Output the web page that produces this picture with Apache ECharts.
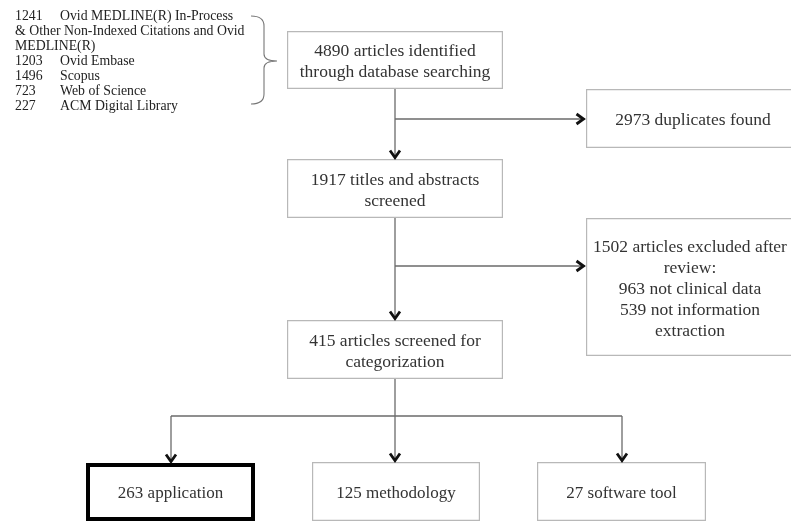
<!DOCTYPE html>
<html><head><meta charset="utf-8">
<script src="https://cdn.jsdelivr.net/npm/echarts@6/dist/echarts.min.js"></script>
<style>html,body{margin:0;padding:0;background:#fff}#c{width:791px;height:522px}</style>
</head><body><div id="c"></div>
<script>
// ---- data ----
const sourceCounts = ['1241', '1203', '1496', '723', '227'];
const sourceNames = ['Ovid MEDLINE(R) In-Process\n& Other Non-Indexed Citations and Ovid\nMEDLINE(R)', 'Ovid Embase', 'Scopus', 'Web of Science', 'ACM Digital Library'];
const stageCounts = [4890, 2973, 1917, 1502, 415, 263, 125, 27];
const stageTexts = ['articles identified\nthrough database searching', 'duplicates found', 'titles and abstracts\nscreened', 'articles excluded after\nreview:', 'articles screened for\ncategorization', 'application', 'methodology', 'software tool'];
const exclusionCounts = [963, 539];
const exclusionReasons = ['not clinical data', 'not information\nextraction'];

// ---- layout (diagram units = pixels of the 791x522 page) ----
const boxLayout = [[287,31,503,89],[586,89,798,148],[287,159,503,218],[586,218,798,356],[287,320,503,379],[86,463,255,521],[312,462,480,521],[537,462,706,521]];
const textOffsetX = [0, 1, 0, -2, 0, 0, 0, 0];
const highlightBox = 5;
const connectors = [
  {pts: [[395,89],[395,159]], arrow: true},
  {pts: [[395,119],[585,119]], arrow: true},
  {pts: [[395,218],[395,320]], arrow: true},
  {pts: [[395,266],[585,266]], arrow: true},
  {pts: [[395,379],[395,462]], arrow: true},
  {pts: [[171,416],[622,416]], arrow: false},
  {pts: [[171,416],[171,463]], arrow: true},
  {pts: [[622,416],[622,462]], arrow: true}
];
const listNumX = 15, listNameX = 60, listTopY = 16, listLineH = 15;
const brace = [[251,16],[264,26],[264,54],[277,61],[264,68],[264,94],[251,104]];

function boxLabel(i) {
  let s = stageCounts[i] + ' ' + stageTexts[i];
  if (i === 3) {
    s += '\n' + exclusionCounts.map((c, k) => c + ' ' + exclusionReasons[k]).join('\n');
  }
  return s;
}

// build list rows
const listRows = [];
sourceCounts.forEach((c, i) => {
  const parts = sourceNames[i].split('\n');
  parts.forEach((p, k) => {
    listRows.push({num: k === 0 ? c : '', name: p, cont: k > 0});
  });
});

const FONT = '"Liberation Serif","Times New Roman",serif';
const chart = echarts.init(document.getElementById('c'));
chart.setOption({
  animation: false,
  backgroundColor: '#fff',
  grid: {left: 0, right: 0, top: 0, bottom: 0},
  xAxis: {type: 'value', min: 0, max: 791, show: false},
  yAxis: {type: 'value', min: 0, max: 522, inverse: true, show: false},
  series: [
    {
      type: 'custom', clip: false,
      data: boxLayout.map((b, i) => [b[0], b[1], b[2], b[3], i]),
      renderItem: function (params, api) {
        const i = api.value(4);
        const p0 = api.coord([api.value(0), api.value(1)]);
        const p1 = api.coord([api.value(2), api.value(3)]);
        const hl = i === highlightBox;
        const lw = hl ? 4 : 1.2;
        return {
          type: 'group',
          children: [
            {type: 'rect', shape: {x: p0[0] + lw / 2, y: p0[1] + lw / 2, width: p1[0] - p0[0] - lw, height: p1[1] - p0[1] - lw},
             style: {fill: '#fff', stroke: hl ? '#000' : '#b8b8b8', lineWidth: lw}},
            {type: 'text', style: {text: boxLabel(i), x: (p0[0] + p1[0]) / 2 + textOffsetX[i], y: (p0[1] + p1[1]) / 2 + 2,
             align: 'center', verticalAlign: 'middle', fontFamily: FONT, fontSize: i >= 5 ? 17 : 17.5, lineHeight: 21, fill: '#333'}}
          ]
        };
      }
    },
    {
      type: 'custom', clip: false,
      data: connectors.map((c, i) => [c.pts[0][0], c.pts[0][1], i]),
      renderItem: function (params, api) {
        const c = connectors[api.value(2)];
        const pts = c.pts.map(p => api.coord(p));
        const children = [{type: 'polyline', shape: {points: pts}, style: {stroke: '#6a6a6a', lineWidth: 1.3, fill: null}}];
        if (c.arrow) {
          const a = pts[pts.length - 2], b = pts[pts.length - 1];
          const dx = b[0] - a[0], dy = b[1] - a[1];
          const L = Math.hypot(dx, dy), ux = dx / L, uy = dy / L;
          const back = 7, half = 5;
          const tip = [b[0] - ux * 1.5, b[1] - uy * 1.5];
          children.push({type: 'polyline', shape: {points: [
            [tip[0] - ux * back - uy * half, tip[1] - uy * back + ux * half],
            tip,
            [tip[0] - ux * back + uy * half, tip[1] - uy * back - ux * half]
          ]}, style: {stroke: '#111', lineWidth: 2.8, fill: null, lineJoin: 'miter'}});
        }
        return {type: 'group', children: children};
      }
    },
    {
      type: 'custom', clip: false,
      data: listRows.map((r, i) => [listNumX, listTopY + i * listLineH, i]),
      renderItem: function (params, api) {
        const r = listRows[api.value(2)];
        const y = api.coord([0, api.value(1)])[1];
        const xn = api.coord([listNumX, 0])[0];
        const xm = api.coord([listNameX, 0])[0];
        const st = {fontFamily: FONT, fontSize: 13.8, fill: '#222', verticalAlign: 'middle', align: 'left'};
        const ch = [];
        if (r.cont) {
          ch.push({type: 'text', style: Object.assign({text: r.name, x: xn, y: y}, st)});
        } else {
          ch.push({type: 'text', style: Object.assign({text: r.num, x: xn, y: y}, st)});
          ch.push({type: 'text', style: Object.assign({text: r.name, x: xm, y: y}, st)});
        }
        return {type: 'group', children: ch};
      }
    },
    {
      type: 'custom', clip: false,
      data: [[brace[0][0], brace[0][1]]],
      renderItem: function (params, api) {
        const P = brace.map(p => api.coord(p));
        const d = 'M' + P[0] + ' Q' + [P[1][0], P[0][1]] + ' ' + P[1] +
          ' L' + P[2] + ' Q' + [P[2][0], P[3][1]] + ' ' + P[3] +
          ' Q' + [P[4][0], P[3][1]] + ' ' + P[4] +
          ' L' + P[5] + ' Q' + [P[5][0], P[6][1]] + ' ' + P[6];
        return {type: 'path', shape: {pathData: d}, style: {stroke: '#777', lineWidth: 1.1, fill: null}};
      }
    }
  ]
});
</script></body></html>
